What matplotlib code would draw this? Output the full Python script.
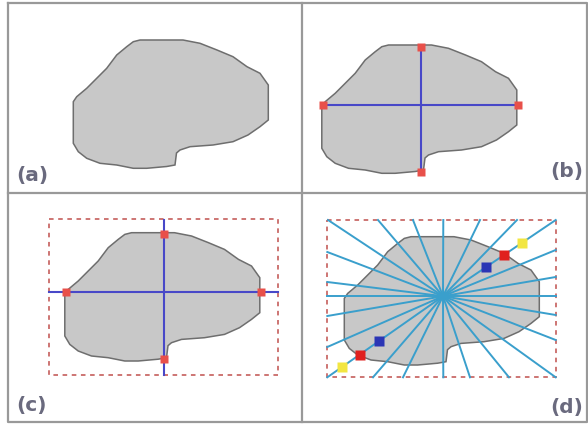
import matplotlib.pyplot as plt
from matplotlib.patches import Polygon, Rectangle

# shape outline, in panel (a) pixel coords
shape_x = [140, 183, 200, 217, 233, 247, 260, 268.3, 268.3, 260, 248, 233, 213, 190,
           180, 176.5, 175, 166.7, 146.7, 133.3, 116.7, 100, 86.7, 78.3, 73.3, 73.3,
           76.7, 86.7, 96.7, 106.7, 116.7, 126.7, 133.3]
shape_y = [40, 40, 43.3, 50, 56.7, 66.7, 73.3, 85, 120, 126.7, 135, 141.7, 145, 146.7,
           150, 153, 165, 166.5, 168.3, 168.3, 165, 163.3, 158.3, 151.7, 143.3, 101.7,
           96.7, 88.3, 78.3, 68.3, 55, 46.7, 41.7]

# per-panel shift of the shape
panel_names = ["(a)", "(b)", "(c)", "(d)"]
panel_dx = [0, 248.5, -8.5, 271]
panel_dy = [0, 5, 192.7, 196.7]

# crosshair centre and the four extreme points (shape coords)
cross_c = (172, 99.5)
ext_x = [74.5, 269, 172, 172]
ext_y = [99.5, 99.5, 41.5, 166.5]

# bounding boxes (x0, y0, x1, y1) for panels (c) and (d)
box_c = (49.3, 218.5, 278.3, 375)
box_d = (327.3, 220, 555.7, 377.3)

# ray end points on the box in (d)
ray_top = [328, 378, 413, 443.3, 480, 517, 555.7]
ray_right = [250, 277, 296.2, 315, 340, 377.3]
ray_bottom = [509, 470, 443.3, 403, 373, 327.3]
ray_left = [347, 316, 296.2, 282, 252]

# sample points on the two corner rays (fraction of ray length)
upper_t = [0.38, 0.54, 0.70]
lower_t = [0.55, 0.72, 0.87]

GREY = "#999999"
FILL = "#c8c8c8"
EDGE = "#6e6e6e"
CROSS = "#4848c8"
RAY = "#3a9fcc"
BOXRED = "#c0504d"
PTRED = "#e8504a"
LABEL = "#6a6a7e"

fig = plt.figure(figsize=(5.88, 4.29), dpi=100)
ax = fig.add_axes([0, 0, 1, 1])
ax.set_xlim(0, 588)
ax.set_ylim(429, 0)
ax.axis("off")

# frame
ax.plot([7.5, 587, 587, 7.5, 7.5], [3, 3, 422, 422, 3], color=GREY, lw=1.6)
ax.plot([302, 302], [3, 422], color=GREY, lw=1.6)
ax.plot([7.5, 587], [192.5, 192.5], color=GREY, lw=1.6)

for i, name in enumerate(panel_names):
    dx, dy = panel_dx[i], panel_dy[i]
    pts = [(x + dx, y + dy) for x, y in zip(shape_x, shape_y)]
    ax.add_patch(Polygon(pts, closed=True, facecolor=FILL, edgecolor=EDGE, lw=1.1, zorder=2))

# panel (b) crosshair
dx, dy = panel_dx[1], panel_dy[1]
cx, cy = cross_c[0] + dx, cross_c[1] + dy
ax.plot([ext_x[0] + dx, ext_x[1] + dx], [cy, cy], color=CROSS, lw=1.5, zorder=3)
ax.plot([cx, cx], [ext_y[2] + dy, ext_y[3] + dy], color=CROSS, lw=1.5, zorder=3)
ax.plot([x + dx for x in ext_x], [y + dy for y in ext_y], "s", color=PTRED,
        ms=5.5, mec="none", zorder=4)

# panel (c) crosshair + bounding box
dx, dy = panel_dx[2], panel_dy[2]
cx, cy = cross_c[0] + dx, cross_c[1] + dy
x0, y0, x1, y1 = box_c
ax.add_patch(Rectangle((x0, y0), x1 - x0, y1 - y0, fill=False, edgecolor=BOXRED,
                       lw=1.1, ls=(0, (3, 3)), zorder=3))
ax.plot([x0, x1], [cy, cy], color=CROSS, lw=1.5, zorder=3)
ax.plot([cx, cx], [y0 + 1.5, y1], color=CROSS, lw=1.5, zorder=3)
ax.plot([x + dx for x in ext_x], [y + dy for y in ext_y], "s", color=PTRED,
        ms=5.5, mec="none", zorder=4)

# panel (d) rays
dx, dy = panel_dx[3], panel_dy[3]
cx, cy = cross_c[0] + dx, cross_c[1] + dy
x0, y0, x1, y1 = box_d
ax.add_patch(Rectangle((x0, y0), x1 - x0, y1 - y0, fill=False, edgecolor=BOXRED,
                       lw=1.1, ls=(0, (3, 3)), zorder=3))
ends = ([(x, y0) for x in ray_top] + [(x1, y) for y in ray_right]
        + [(x, y1) for x in ray_bottom] + [(x0, y) for y in ray_left])
for ex, ey in ends:
    ax.plot([cx, ex], [cy, ey], color=RAY, lw=1.4, zorder=3)

# inside / boundary / outside samples on the corner rays
for (ex, ey), ts in [((x1, y0), upper_t), ((x0, y1), lower_t)]:
    for t, col in zip(ts, ["#2b35b5", "#e0201e", "#f2e642"]):
        px, py = cx + t * (ex - cx), cy + t * (ey - cy)
        ax.plot(px, py, "s", color=col, ms=6.5, mec="none", zorder=5)

# labels
lab_pos = [(16, 176, "left"), (583, 172, "right"), (16, 405, "left"), (583, 407, "right")]
for name, (lx, ly, ha) in zip(panel_names, lab_pos):
    ax.text(lx, ly, name, ha=ha, va="center", fontsize=14.5, fontweight="bold",
            color=LABEL, family=["DejaVu Sans"])

fig.savefig("out.png", dpi=100)
